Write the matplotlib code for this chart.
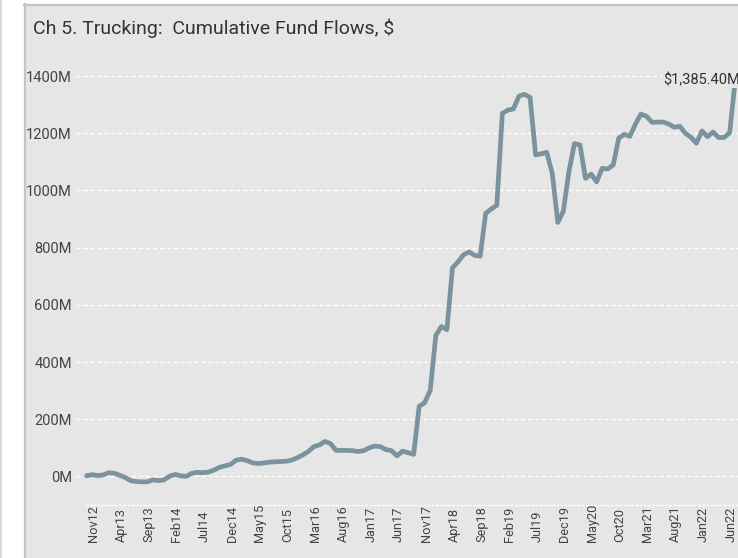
import matplotlib.pyplot as plt
from matplotlib.patches import Rectangle
from matplotlib.lines import Line2D

plt.rcParams['font.family'] = ['Roboto', 'DejaVu Sans']

# cumulative fund flows in $M, monthly from Oct12 to Jun22
flows = [
    2, 6, 3, 5, 13, 11, 4, -4, -15, -18,
    -19, -19, -12, -15, -12, 1, 7, 2, 0, 11,
    14, 13, 15, 22, 32, 37, 42, 57, 60, 55,
    47, 45, 47, 50, 51, 52, 53, 57, 65, 75,
    87, 104, 110, 122, 115, 91, 91, 91, 90, 87,
    90, 100, 106, 104, 94, 90, 72, 88, 83, 77,
    245, 258, 301, 493, 524, 513, 729, 750, 775, 785,
    773, 770, 920, 935, 948, 1269, 1281, 1285, 1330, 1336,
    1325, 1124, 1128, 1133, 1060, 888, 927, 1065, 1164, 1159,
    1042, 1057, 1030, 1077, 1075, 1089, 1183, 1196, 1189, 1232,
    1267, 1259, 1238, 1239, 1239, 1232, 1221, 1224, 1200, 1186,
    1165, 1208, 1188, 1204, 1185, 1185, 1202, 1385.4,
]
tick_labels = ["Nov12", "Apr13", "Sep13", "Feb14", "Jul14", "Dec14", "May15",
               "Oct15", "Mar16", "Aug16", "Jan17", "Jun17", "Nov17", "Apr18",
               "Sep18", "Feb19", "Jul19", "Dec19", "May20", "Oct20", "Mar21",
               "Aug21", "Jan22", "Jun22"]
y_ticks = [0, 200, 400, 600, 800, 1000, 1200, 1400]
last_label = "$1,385.40M"

W, H = 738, 558
fig = plt.figure(figsize=(W / 100, H / 100), dpi=100)
fig.patch.set_facecolor('white')

# grey panel with borders
fig.patches.append(Rectangle((24 / W, 0), 1, 1 - 5 / H, transform=fig.transFigure,
                             facecolor='#e6e6e6', edgecolor='none', zorder=-5))
fig.lines.append(Line2D([24.5 / W, 24.5 / W], [0, 1 - 4 / H], transform=fig.transFigure,
                        color='#c4c4c4', lw=1.6, zorder=-4))
fig.lines.append(Line2D([24 / W, 1], [1 - 5 / H, 1 - 5 / H], transform=fig.transFigure,
                        color='#c4c4c4', lw=1.6, zorder=-4))
fig.lines.append(Line2D([1 / W, 1 / W], [0, 1], transform=fig.transFigure,
                        color='#d4d4d4', lw=1.2, zorder=-4))

fig.text(33 / W, 1 - 28 / H, "Ch 5. Trucking:  Cumulative Fund Flows, $",
         fontsize=14, color='#333333', ha='left', va='center')

ax = fig.add_axes([76 / W, 53 / H, 662 / W, 449 / H])
ax.set_facecolor('#e6e6e6')

x = list(range(len(flows)))
ax.plot(x, flows, color='#7b939f', lw=3.4, solid_joinstyle='round',
        solid_capstyle='round', zorder=3)

ax.set_xlim(-1.89, 117.5)
ax.set_ylim(-100, 1470)

ax.set_yticks(y_ticks, [f"{v}M" for v in y_ticks])
ax.grid(axis='y', color='white', ls=(0, (3, 2)), lw=1)
ax.tick_params(axis='y', length=0, pad=3, labelsize=10.5, labelcolor='#444444')

# month labels, bottoms aligned like the original
ax.set_xticks([])
tick_pos = [1.26 + 5 * k for k in range(len(tick_labels))]
for pos, lab in zip(tick_pos, tick_labels):
    ax.text(pos, -0.082, lab, transform=ax.get_xaxis_transform(), rotation=90,
            ha='center', va='bottom', fontsize=9.2, color='#444444')

for s in ['top', 'right', 'left']:
    ax.spines[s].set_visible(False)
ax.spines['bottom'].set_color('white')
ax.spines['bottom'].set_linestyle((0, (1, 2)))
ax.spines['bottom'].set_linewidth(1)
ax.spines['bottom'].set_bounds(-0.1, 117.5)

ax.annotate(last_label, xy=(x[-1], flows[-1]), xytext=(-52, 0),
            textcoords='offset points', ha='left', va='center',
            fontsize=10.5, color='#333333', annotation_clip=False,
            bbox=dict(facecolor='#e6e6e6', edgecolor='none', pad=0.5), zorder=4)

fig.savefig('out.png', dpi=100)
